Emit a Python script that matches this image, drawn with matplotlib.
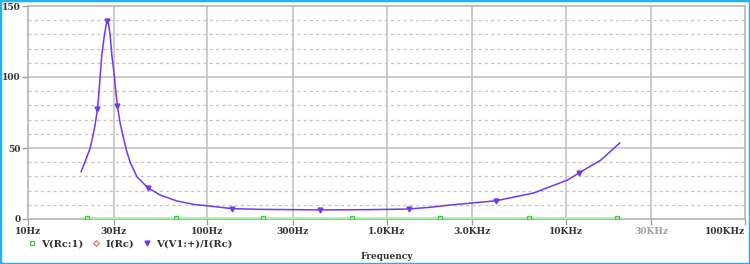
import matplotlib.pyplot as plt
from matplotlib.lines import Line2D
from matplotlib.patches import Rectangle

# Значения
freq_z = [19.78, 20.82, 22.20, 22.87, 23.68, 24.39, 24.70, 25.25, 25.80, 26.69,
          27.53, 28.10, 28.72, 29.35, 30.35, 30.90, 31.54, 32.66, 34.08, 35.60,
          37.14, 40.5, 46.6, 54.6, 67.7, 83.8, 101.7, 137.4, 197.7, 428,
          800, 1327, 1763, 2280, 3020, 4064, 6620, 10250, 11830, 15700, 20000]
z_vals = [33.3, 40.4, 49.8, 56.8, 66.2, 77.3, 84.0, 100.2, 115.5, 129.6,
          139.4, 137.8, 129.6, 115.5, 100.2, 89.6, 79.6, 67.5, 57.0, 47.5,
          40.0, 29.8, 22.0, 16.9, 12.7, 10.3, 9.2, 7.3, 6.8, 6.4,
          6.6, 7.0, 8.3, 9.9, 11.3, 12.8, 18.3, 27.5, 32.4, 41.5, 53.5]
z_marks = [5, 10, 16, 22, 27, 29, 31, 35, 38]

freq_v = [20.0, 21.4, 67.1, 205, 643, 2000, 6210, 19300, 20000]
v_vals = [1, 1, 1, 1, 1, 1, 1, 1, 1]
v_marks = [1, 2, 3, 4, 5, 6, 7]

freq_i = [20.0, 20000]
i_vals = [0, 0]

x_ticks = [10, 30, 100, 300, 1000, 3000, 10000, 30000, 100000]
x_labels = ["10Hz", "30Hz", "100Hz", "300Hz", "1.0KHz", "3.0KHz", "10KHz", "30KHz", "100KHz"]
y_ticks = [0, 50, 100, 150]
y_minor = [10, 20, 30, 40, 60, 70, 80, 90, 110, 120, 130, 140]

PURPLE = "#7436f2"
GREEN_LINE = "#a4f0a4"
GREEN_MARK = "#3ccf3c"
RED = "#f07272"
GRID = "#c4c4c4"
TEXT = "#333333"
FONT = {"family": "DejaVu Serif", "weight": "bold", "size": 6.5, "color": TEXT}

fig = plt.figure(figsize=(7.5, 2.64), dpi=100)
ax = fig.add_axes([28 / 750, 1 - 219 / 264, 717 / 750, 213 / 264])

ax.set_xscale("log")
ax.set_xlim(10, 100000)
ax.set_ylim(0, 150)

# сетка
for x in x_ticks[1:-1]:
    ax.axvline(x, color=GRID, lw=1.2, zorder=0)
for y in y_ticks[1:-1]:
    ax.axhline(y, color=GRID, lw=1.2, zorder=0)
for y in y_minor:
    ax.axhline(y, color=GRID, lw=0.9, ls=(0, (2.5, 2.5)), zorder=0)

# кривые
ax.plot(freq_i, i_vals, color=RED, lw=1.2, clip_on=False, zorder=2)
ax.plot(freq_v, v_vals, color=GREEN_LINE, lw=1.8, marker="s", markevery=v_marks,
        ms=3.5, mfc="none", mec=GREEN_MARK, mew=0.9, zorder=3)
ax.plot(freq_z, z_vals, color=PURPLE, lw=1.1, marker="v", markevery=z_marks,
        ms=3.5, mfc=PURPLE, mec=PURPLE, zorder=4)

ax.set_xticks(x_ticks)
ax.set_xticklabels(x_labels, fontdict=FONT)
ax.xaxis.set_minor_locator(plt.NullLocator())
xl = ax.get_xticklabels()
xl[-1].set_ha("right")
xl[-2].set_color("#a0a0a0")
ax.set_yticks(y_ticks)
ax.set_yticklabels([str(v) for v in y_ticks], fontdict=FONT)
ax.tick_params(axis="both", color="#a0a0a0", length=4, width=1)
ax.tick_params(axis="x", pad=2)
ax.tick_params(axis="y", pad=1.5)
for s in ax.spines.values():
    s.set_color("#b4b4b4")
    s.set_linewidth(1.2)

ax.set_xlabel("Frequency", fontdict=FONT, labelpad=11)

handles = [
    Line2D([], [], ls="none", marker="s", ms=3.5, mfc="none", mec=GREEN_MARK, mew=0.9),
    Line2D([], [], ls="none", marker="D", ms=3, mfc="none", mec=RED, mew=0.9),
    Line2D([], [], ls="none", marker="v", ms=3.5, mfc=PURPLE, mec=PURPLE),
]
leg = fig.legend(handles, ["V(Rc:1)", "I(Rc)", "V(V1:+)/I(Rc)"], loc="center left",
                 bbox_to_anchor=(27 / 750, 1 - 244 / 264), ncol=3, frameon=False,
                 handlelength=1.0, handletextpad=0.4, columnspacing=0.8,
                 borderpad=0, borderaxespad=0,
                 prop={"family": "DejaVu Serif", "weight": "bold", "size": 7.2})
for t in leg.get_texts():
    t.set_color(TEXT)

fig.patches.append(Rectangle((0, 0), 1, 1, transform=fig.transFigure, fill=False,
                             edgecolor="#22b2ee", lw=2.5))

fig.savefig("out.png", dpi=100)
